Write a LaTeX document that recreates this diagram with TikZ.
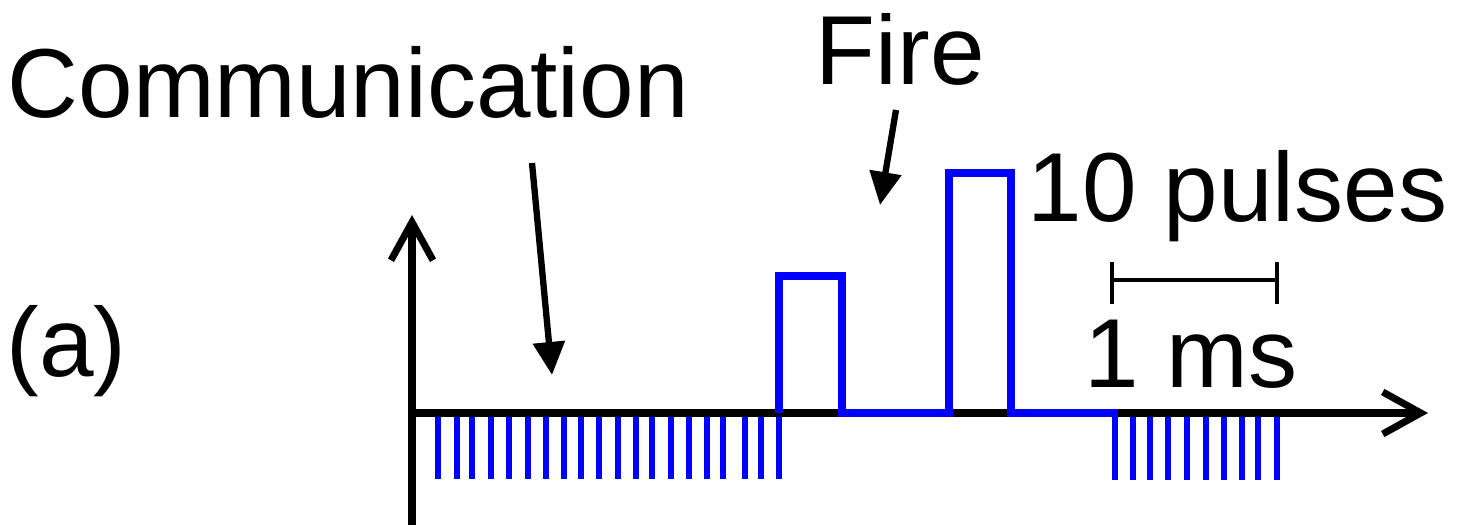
\documentclass[tikz,border=0pt]{standalone}
\usepackage{fontspec}
\setmainfont{Liberation Sans}
\usepackage{xcolor}
\usetikzlibrary{arrows.meta,positioning}

\begin{document}
\begin{tikzpicture}[
    label/.style={inner sep=0pt, anchor=base west, font=\fontsize{27.9}{33}\selectfont},
    axis/.style={line width=2pt, -{Straight Barb[length=3.8mm, width=4.2mm, line width=2pt]}},
    callout/.style={line width=1.8pt, -{Triangle[length=3.3mm, width=3.1mm]}},
    signal/.style={draw=blue, line width=2pt},
    tick/.style={draw=blue, line width=1.6pt},
    scalebar/.style={line width=1.4pt},
  ]
  \useasboundingbox (0,0) rectangle (14.68,5.25);
  % axes
  \coordinate (origin) at (4.12,1.12);
  \coordinate (ybot) at (4.12,0);
  \coordinate (ytop) at (4.12,3.10);
  \coordinate (xend) at (14.28,1.12);
  % communication ticks
  \foreach \x in {4.38,4.57,4.72,4.91,5.09,5.28,5.46,5.64,5.81,5.99,6.18,6.36,6.52,6.71,6.89,7.07,7.23,7.45,7.61,7.79}
    \draw[tick] (\x,1.12) -- (\x,0.46);
  \foreach \x in {11.15,11.33,11.50,11.68,11.87,12.06,12.24,12.42,12.58,12.77}
    \draw[tick] (\x,1.12) -- (\x,0.45);
  \draw[axis] (ybot) -- (ytop);
  \draw[axis] (origin) -- (xend);
  % fire pulses
  \draw[signal] (7.79,1.12) -- (7.79,2.49) -- (8.42,2.49) -- (8.42,1.12) -- (9.49,1.12)
    -- (9.49,3.52) -- (10.11,3.52) -- (10.11,1.12) -- (11.18,1.12);
  % scale bar
  \coordinate (barL) at (11.12,2.45);
  \coordinate (barR) at (12.77,2.45);
  \draw[scalebar] (barL) -- (barR);
  \draw[scalebar] ([yshift=1.8mm]barL) -- ([yshift=-2.4mm]barL);
  \draw[scalebar] ([yshift=1.8mm]barR) -- ([yshift=-2.4mm]barR);
  % labels
  \node[label] (comm) at (0.07,4.07) {Communication};
  \node[label] (fire) at (8.15,4.40) {Fire};
  \node[label] (pulses) at (10.27,3.03) {10 pulses};
  \node[label] (ms) at (10.84,1.37) {1 ms};
  \node[label] (panel) at (0.06,1.48) {(a)};
  \coordinate (commtail) at (5.32,3.62);
  \coordinate (commtip) at (5.52,1.50);
  \coordinate (firetail) at (8.96,4.15);
  \coordinate (firetip) at (8.80,3.20);
  \draw[callout] (commtail) -- (commtip);
  \draw[callout] (firetail) -- (firetip);
\end{tikzpicture}
\end{document}
